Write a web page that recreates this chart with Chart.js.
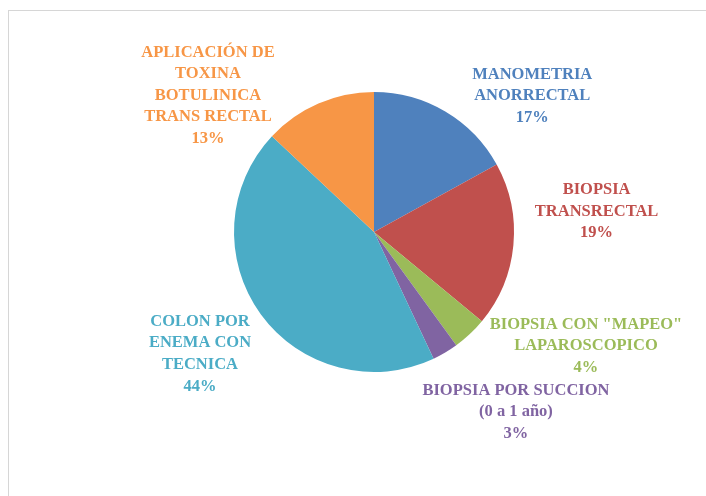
<!DOCTYPE html>
<html>
<head>
<meta charset="utf-8">
<script src="https://cdn.jsdelivr.net/npm/chart.js@4.4.0/dist/chart.umd.min.js"></script>
<style>
  html, body { margin: 0; padding: 0; background: #fff; }
  #wrap { position: relative; width: 706px; height: 496px; overflow: hidden; }
  #frame { position: absolute; left: 8px; top: 10px; width: 720px; height: 520px; border: 1px solid #d6d6d6; }
  canvas { position: absolute; left: 0; top: 0; }
</style>
</head>
<body>
<div id="wrap">
  <div id="frame"></div>
  <canvas id="pie" width="706" height="496"></canvas>
</div>
<script>
// datos del gráfico
const categorias = [
    ['MANOMETRIA', 'ANORRECTAL'],
    ['BIOPSIA', 'TRANSRECTAL'],
    ['BIOPSIA CON "MAPEO"', 'LAPAROSCOPICO'],
    ['BIOPSIA POR SUCCION', '(0 a 1 año)'],
    ['COLON POR', 'ENEMA CON', 'TECNICA'],
    ['APLICACIÓN DE', 'TOXINA', 'BOTULINICA', 'TRANS RECTAL']
];
const porcentajes = [17, 19, 4, 3, 44, 13];

const colores = ['#4F81BD', '#C0504D', '#9BBB59', '#8064A2', '#4BACC6', '#F79646'];
// posición de cada etiqueta, en radios, respecto al centro del pastel
const etiquetaPos = [
    [1.13, -0.97], [1.59, -0.146], [1.514, 0.814],
    [1.014, 1.286], [-1.243, 0.871], [-1.186, -0.975]
];

// dibuja las etiquetas de texto al lado de cada porción
const etiquetas = {
    id: 'etiquetas',
    afterDatasetsDraw(chart) {
        const ctx = chart.ctx;
        const arcs = chart.getDatasetMeta(0).data;
        ctx.save();
        ctx.font = 'bold 16.5px "Liberation Serif", serif';
        ctx.textAlign = 'center';
        ctx.textBaseline = 'middle';
        arcs.forEach((arc, i) => {
            const r = arc.outerRadius;
            const lines = categorias[i].concat([porcentajes[i] + '%']);
            const cx = arc.x + etiquetaPos[i][0] * r;
            const cy = arc.y + etiquetaPos[i][1] * r;
            const lh = 21.6;
            const y0 = cy - (lines.length - 1) * lh / 2;
            ctx.fillStyle = colores[i];
            lines.forEach((t, k) => ctx.fillText(t, cx, y0 + k * lh));
        });
        ctx.restore();
    }
};

const ctx = document.getElementById('pie');
if (ctx) {
    new Chart(ctx.getContext('2d'), {
        type: 'pie',
        data: {
            labels: categorias.map(c => c.join(' ')),
            datasets: [{
                data: porcentajes,
                backgroundColor: colores,
                borderWidth: 0
            }]
        },
        options: {
            responsive: false,
            animation: false,
            layout: { padding: { left: 234, right: 192, top: 92, bottom: 124 } },
            plugins: { legend: { display: false }, tooltip: { enabled: false } }
        },
        plugins: [etiquetas]
    });
}
</script>
</body>
</html>
